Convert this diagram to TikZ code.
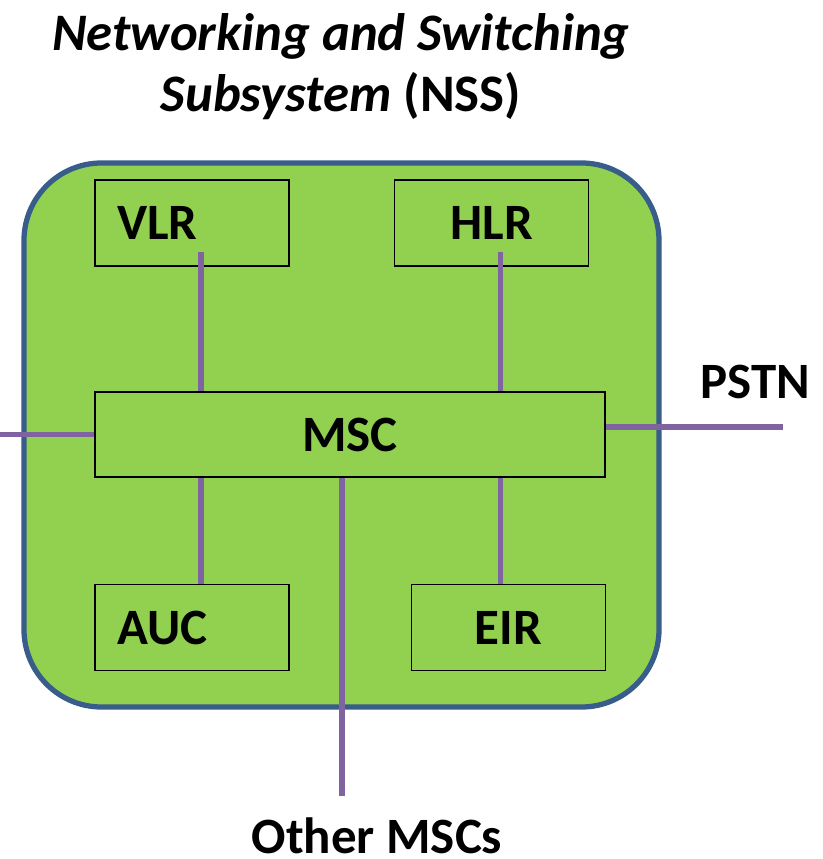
\documentclass[tikz,border=0pt]{standalone}
\usepackage{fontspec}
\setmainfont{Carlito}
\usetikzlibrary{positioning}
\definecolor{nssgreen}{RGB}{146,208,80}
\definecolor{nssblue}{RGB}{56,93,138}
\definecolor{linkpurple}{RGB}{128,100,162}
\tikzset{
  unit/.style={draw=black, line width=1.1pt, fill=nssgreen, minimum width=3.88cm, minimum height=1.72cm,
    font=\fontsize{29}{34}\selectfont\bfseries},
  leftunit/.style={unit, text width=3cm, align=left, inner xsep=0.44cm},
  link/.style={draw=linkpurple, line width=3pt},
  lbl/.style={font=\fontsize{29}{34}\selectfont\bfseries, anchor=base, inner sep=0pt}
}
\begin{document}
\begin{tikzpicture}[x=0.02cm,y=-0.02cm]
            \useasboundingbox (0,0) rectangle (822,859);
            \node[lbl, font=\fontsize{30}{36}\selectfont\bfseries\itshape] (title1) at (341,50) {Networking and Switching};
            \node[lbl, font=\fontsize{30}{36}\selectfont\bfseries] (title2) at (341,111) {\textit{Subsystem} (NSS)};
            \draw[draw=nssblue, fill=nssgreen, line width=3pt, rounded corners=1.55cm] (24,163) rectangle (659,707);
            \node[leftunit] (vlr) at (192,223) {VLR};
            \node[unit] (hlr) at (491.5,223) {HLR};
            \node[unit, minimum width=10.2cm, minimum height=1.7cm] (msc) at (350,434.5) {MSC};
            \node[leftunit] (auc) at (192,627.5) {AUC};
            \node[unit] (eir) at (508.5,627.5) {EIR};
            \coordinate (vlrlink) at ([shift={(9,-15)}]vlr.south);
            \coordinate (hlrlink) at ([shift={(9,-15)}]hlr.south);
            \coordinate (auclink) at ([shift={(9,0)}]auc.north);
            \coordinate (eirlink) at ([shift={(-8,0)}]eir.north);
            \coordinate (bscend) at (0,434.5);
            \coordinate (pstnend) at (783,427);
            \coordinate (othersend) at (342,796);
            \draw[link] (vlrlink) -- (vlrlink |- msc.north);
            \draw[link] (hlrlink) -- (hlrlink |- msc.north);
            \draw[link] (auclink |- msc.south) -- (auclink);
            \draw[link] (eirlink |- msc.south) -- (eirlink);
            \draw[link] (bscend) -- (msc.west);
            \draw[link] (msc.east |- pstnend) -- (pstnend);
            \draw[link] (othersend |- msc.south) -- (othersend);
            \node[lbl] (pstn) at (755,398) {PSTN};
            \node[lbl] (others) at (377,853) {Other MSCs};
        \end{tikzpicture}
\end{document}
